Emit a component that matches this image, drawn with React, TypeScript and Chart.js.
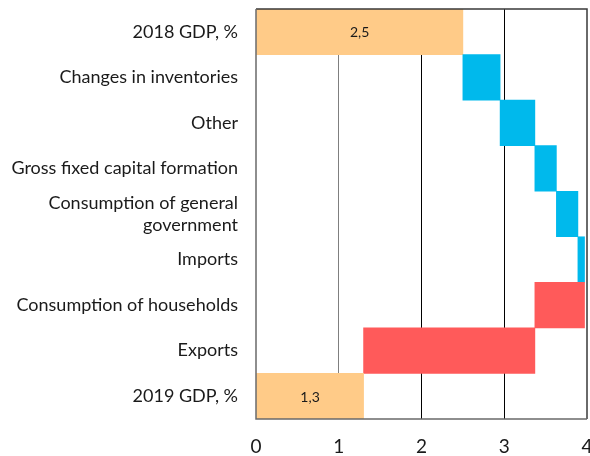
import React, { useEffect, useRef } from "react";
import { Chart, registerables } from "chart.js";

Chart.register(...registerables);

const categories: (string | string[])[] = [
  "2018 GDP, %",
  "Changes in inventories",
  "Other",
  "Gross fixed capital formation",
  ["Consumption of general", "government"],
  "Imports",
  "Consumption of households",
  "Exports",
  "2019 GDP, %",
];

const gdp2018 = 2.5;
const contributions = [0.45, 0.42, 0.26, 0.26, 0.08, -0.6, -2.07];
const gdp2019 = 1.3;
const xTicks = [0, 1, 2, 3, 4];

const totalColor = "#FFCB88";
const upColor = "#00B9EC";
const downColor = "#FF5A5A";

function buildBars() {
  const bars: [number, number][] = [[0, gdp2018]];
  const colors: string[] = [totalColor];
  let cum = gdp2018;
  for (const c of contributions) {
    const next = Math.round((cum + c) * 100) / 100;
    bars.push([cum, next]);
    colors.push(c >= 0 ? upColor : downColor);
    cum = next;
  }
  bars.push([0, gdp2019]);
  colors.push(totalColor);
  return { bars, colors };
}

const totalLabels: Record<number, string> = { 0: "2,5", 8: "1,3" };

export default function App() {
  const ref = useRef<HTMLCanvasElement | null>(null);
  useEffect(() => {
    if (!ref.current) return;
    const { bars, colors } = buildBars();
    const borderPlugin = {
      id: "frame",
      afterDatasetsDraw(chart: any) {
        const { ctx, chartArea } = chart;
        const { left, right, top, bottom } = chartArea;
        ctx.save();
        ctx.lineWidth = 1.5;
        ctx.strokeStyle = "#3a3a3a";
        ctx.beginPath();
        ctx.moveTo(left, top);
        ctx.lineTo(right, top);
        ctx.lineTo(right, bottom);
        ctx.stroke();
        ctx.strokeStyle = "#6a6a6a";
        ctx.beginPath();
        ctx.moveTo(right, bottom);
        ctx.lineTo(left, bottom);
        ctx.lineTo(left, top);
        ctx.stroke();
        const meta = chart.getDatasetMeta(0);
        ctx.fillStyle = "#1a1a1a";
        ctx.font = "14px Lato";
        ctx.textAlign = "center";
        ctx.textBaseline = "middle";
        Object.keys(totalLabels).forEach((k) => {
          const i = Number(k);
          const el = meta.data[i];
          if (!el) return;
          const cx = (el.x + el.base) / 2;
          ctx.fillText(totalLabels[i], cx, el.y + 1);
        });
        ctx.restore();
      },
    };
    const chart = new Chart(ref.current, {
      type: "bar",
      data: {
        labels: categories as any,
        datasets: [
          {
            data: bars as any,
            backgroundColor: colors,
            borderWidth: 0,
            barPercentage: 1,
            categoryPercentage: 1,
          },
        ],
      },
      options: {
        indexAxis: "y",
        responsive: false,
        animation: false,
        layout: { padding: { top: 9, right: 13, bottom: 23, left: 0 } },
        plugins: {
          legend: { display: false },
          tooltip: { enabled: false },
        },
        scales: {
          x: {
            min: 0,
            max: 4,
            afterBuildTicks: (s: any) => {
              s.ticks = xTicks.map((v) => ({ value: v }));
            },
            afterFit: (s: any) => {
              s.height = 38;
              s.paddingLeft = 0;
              s.paddingRight = 0;
            },
            grid: {
              drawTicks: false,
              lineWidth: 1,
              color: (c: any) => {
                const v = c.tick ? c.tick.value : -1;
                if (v === 1) return "#7f7f7f";
                if (v === 2 || v === 3) return "#000000";
                return "rgba(0,0,0,0)";
              },
            },
            border: { display: false },
            ticks: {
              padding: 16,
              color: "#1a1a1a",
              font: { family: "Lato", size: 19 },
            },
          },
          y: {
            grid: { display: false, drawTicks: false },
            border: { display: false },
            afterFit: (s: any) => {
              s.width = 256;
              s.paddingTop = 0;
              s.paddingBottom = 0;
            },
            ticks: {
              autoSkip: false,
              padding: 18,
              color: "#1a1a1a",
              font: { family: "Lato", size: 18 },
            },
          },
        },
      },
      plugins: [borderPlugin],
    });
    return () => chart.destroy();
  }, []);
  return (
    <div
      style={{
        position: "absolute",
        left: 0,
        top: 0,
        width: 590,
        height: 456,
        overflow: "hidden",
        background: "#fff",
      }}
    >
      <canvas ref={ref} width={600} height={480} />
    </div>
  );
}
